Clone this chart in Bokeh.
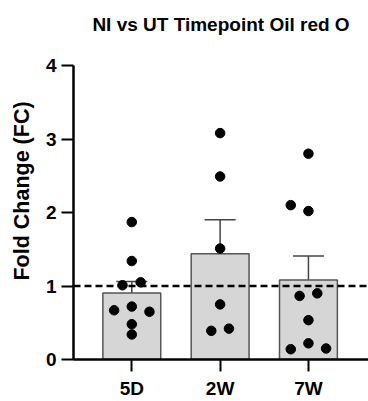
import numpy as np
from bokeh.plotting import figure
from bokeh.models import Range1d, FixedTicker, Span, Whisker, ColumnDataSource, TeeHead, Title
from bokeh.embed import file_html
from bokeh.resources import INLINE

categories = ["5D", "2W", "7W"]
values_5d = [1.87, 1.34, 1.01, 1.05, 0.67, 0.72, 0.65, 0.48, 0.34]
values_2w = [3.08, 2.49, 1.51, 0.75, 0.39, 0.42]
values_7w = [2.80, 2.10, 2.02, 0.865, 0.90, 0.535, 0.14, 0.22, 0.15]
jitter_5d = [0.0, 0.0, -0.105, 0.10, -0.2, 0.0, 0.2, 0.0, 0.0]
jitter_2w = [0.0, 0.0, 0.0, 0.0, -0.1, 0.1]
jitter_7w = [0.0, -0.2, 0.0, -0.1, 0.1, 0.0, -0.2, 0.0, 0.2]
reference_level = 1.0
y_ticks = [0, 1, 2, 3, 4]
title_text = "NI vs UT Timepoint Oil red O"
y_label_text = "Fold Change (FC)"

groups = [values_5d, values_2w, values_7w]
jitters = [jitter_5d, jitter_2w, jitter_7w]
idx = list(range(len(categories)))
means = [float(np.mean(g)) for g in groups]
sems = [float(np.std(g, ddof=1) / np.sqrt(len(g))) for g in groups]

FONT = "Liberation Sans"

p = figure(width=368, height=401, output_backend="svg", toolbar_location=None,
           x_range=Range1d(-0.66, 2.68), y_range=Range1d(0, 4),
           min_border_left=73, min_border_right=0, min_border_top=65, min_border_bottom=40)
p.outline_line_color = None
p.grid.grid_line_color = None

bar_src = ColumnDataSource(dict(x=idx, top=means,
                                upper=[m + s for m, s in zip(means, sems)],
                                lower=[m - s for m, s in zip(means, sems)]))
p.vbar(x="x", top="top", width=0.655, bottom=0, source=bar_src,
       fill_color="#d6d6d6", line_color="#555555", line_width=1.5)

wk = Whisker(base="x", upper="upper", lower="lower", source=bar_src,
             line_color="#444444", line_width=1.5)
wk.upper_head = TeeHead(size=31, line_color="#444444", line_width=1.5)
wk.lower_head = TeeHead(size=31, line_color="#444444", line_width=1.5)
p.add_layout(wk)

p.add_layout(Span(location=reference_level, dimension="width", line_color="black",
                  line_width=2.5, line_dash="7 4"))

xs, ys = [], []
for i, (g, j) in enumerate(zip(groups, jitters)):
    for v, o in zip(g, j):
        xs.append(i + o)
        ys.append(v)
p.scatter(xs, ys, size=9.5, color="black")

p.xaxis.ticker = FixedTicker(ticks=idx)
p.xaxis.major_label_overrides = {i: c for i, c in zip(idx, categories)}
p.yaxis.ticker = FixedTicker(ticks=y_ticks)
for ax in (p.xaxis, p.yaxis):
    ax.axis_line_width = 2.5
    ax.axis_line_color = "black"
    ax.major_tick_line_width = 2
    ax.major_tick_line_color = "black"
    ax.major_tick_in = 0
    ax.major_tick_out = 12
    ax.minor_tick_line_color = None
    ax.major_label_text_font = FONT
    ax.major_label_text_font_style = "bold"
    ax.major_label_text_color = "black"
    ax.major_label_text_font_size = "19px"
p.xaxis.major_label_standoff = 6
p.yaxis.major_label_standoff = 5

p.yaxis.axis_label = "\u2002\u2002\u2002\u2002" + y_label_text
p.yaxis.axis_label_text_font = FONT
p.yaxis.axis_label_text_font_style = "bold"
p.yaxis.axis_label_text_font_size = "21.5px"
p.yaxis.axis_label_text_color = "black"
p.yaxis.axis_label_standoff = 9

# invisible spacer between the title and the plot area
p.add_layout(Title(text="\u2002", text_font_size="1px", standoff=14), "above")

p.title.text = title_text
p.title.align = "center"
p.title.vertical_align = "top"
p.title.text_font = FONT
p.title.text_font_style = "bold"
p.title.text_font_size = "19px"
p.title.text_color = "black"
p.title.standoff = 24

open("out.html", "w").write(file_html(p, INLINE))
